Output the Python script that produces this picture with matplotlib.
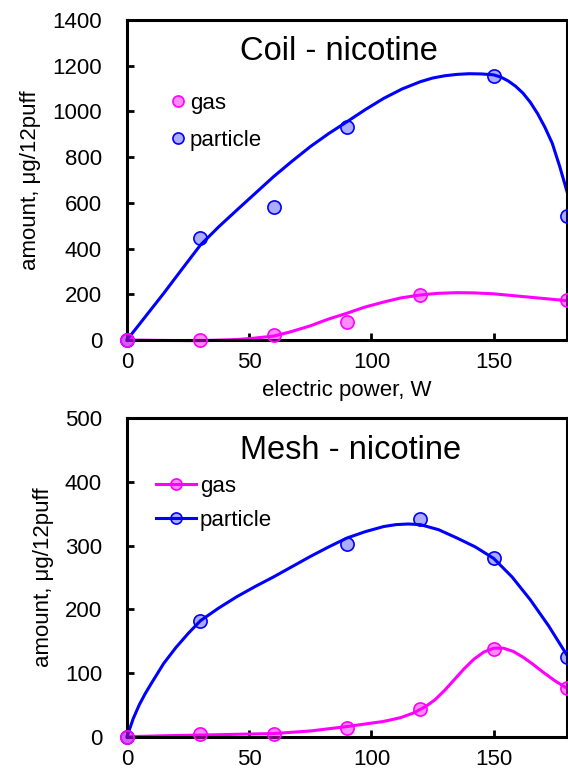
import matplotlib
matplotlib.use("Agg")
import matplotlib.pyplot as plt
from matplotlib.lines import Line2D

plt.rcParams['font.family'] = ['Liberation Sans', 'DejaVu Sans']

# ---- Coil - nicotine (measured points) ----
coil_gas_x = [0, 30, 60, 90, 120, 180]
coil_gas_y = [0, 0, 22, 80, 197, 174]
coil_part_x = [0, 30, 60, 90, 150, 180]
coil_part_y = [0, 447, 583, 930, 1155, 542]

# ---- Coil - fitted curves ----
coil_gas_fit_x = [0, 15, 30, 45, 52, 60, 67, 75, 82, 90, 97, 105, 112, 120, 127, 135, 142, 150, 157, 165, 172, 180]
coil_gas_fit_y = [0, -2, -3, 2, 8, 17, 36, 62, 90, 117, 143, 166, 184, 197, 204, 207, 206, 202, 195, 187, 180, 172]
coil_part_fit_x = [0, 7.5, 15, 22.5, 30, 37.5, 45, 52.5, 60, 67.5, 75, 82.5, 90, 97.5, 105, 112.5, 120, 125, 130, 135, 140, 145, 150, 153, 156, 159, 162, 165, 168, 171, 174, 177, 180]
coil_part_fit_y = [0, 102, 204, 310, 415, 495, 569, 642, 715, 782, 846, 903, 955, 1008, 1057, 1098, 1130, 1146, 1156, 1162, 1165, 1164, 1160, 1150, 1133, 1110, 1080, 1040, 990, 930, 860, 760, 650]

# ---- Mesh - nicotine (measured points) ----
mesh_gas_x = [0, 30, 60, 90, 120, 150, 180]
mesh_gas_y = [0, 4, 5, 14, 43, 138, 76]
mesh_part_x = [0, 30, 90, 120, 150, 180]
mesh_part_y = [0, 182, 302, 342, 280, 125]

# ---- Mesh - fitted curves ----
mesh_gas_fit_x = [0, 15, 30, 45, 60, 75, 90, 105, 112, 117, 122, 126, 130, 134, 138, 142, 146, 150, 154, 158, 162, 166, 170, 175, 180]
mesh_gas_fit_y = [0, 1.5, 2.6, 3.8, 5, 9, 16, 24, 30, 37, 47, 58, 73, 90, 107, 122, 133, 139, 139, 134, 125, 114, 102, 88, 76]
mesh_part_fit_x = [0, 2.5, 5, 7.5, 10, 15, 20, 25, 30, 37.5, 45, 52.5, 60, 67.5, 75, 82.5, 90, 97.5, 105, 110, 115, 120, 127.5, 135, 142.5, 150, 157.5, 165, 172.5, 180]
mesh_part_fit_y = [0, 28, 50, 68, 84, 115, 140, 162, 182, 202, 220, 236, 251, 267, 283, 298, 312, 322, 330, 333, 334, 333, 325, 312, 298, 280, 251, 215, 174, 128]

x_ticks = [0, 50, 100, 150]
coil_yticks = [0, 200, 400, 600, 800, 1000, 1200, 1400]
mesh_yticks = [0, 100, 200, 300, 400, 500]

GAS = '#FF00FF'
PART = '#0000FF'
GAS_FACE = (1.0, 0.0, 1.0, 0.45)
PART_FACE = (0.0, 0.0, 1.0, 0.32)

FS = 16

fig = plt.figure(figsize=(5.68, 7.72), dpi=100)
ax1 = fig.add_axes([0.2236, 0.5596, 0.7746, 0.4145])
ax2 = fig.add_axes([0.2236, 0.0457, 0.7746, 0.4125])

def style(ax, yticks, ymax):
    ax.set_xlim(0, 180)
    ax.set_ylim(0, ymax)
    ax.set_xticks(x_ticks)
    ax.set_yticks(yticks)
    for s in ax.spines.values():
        s.set_linewidth(2.2)
    ax.tick_params(direction='in', length=5, width=2, labelsize=FS)
    ax.tick_params(axis='y', pad=18)
    ax.tick_params(axis='x', pad=9)
    ax.set_ylabel('amount, μg/12puff', fontsize=FS, labelpad=8)

# top
ax1.plot(coil_part_fit_x, coil_part_fit_y, color=PART, lw=2.2, zorder=2, clip_on=False)
ax1.plot(coil_gas_fit_x, coil_gas_fit_y, color=GAS, lw=2.2, zorder=2, clip_on=False)
ax1.plot(coil_part_x, coil_part_y, 'o', ms=9.5, mfc=PART_FACE, mec=PART, mew=1.2, zorder=3, clip_on=False)
ax1.plot(coil_gas_x, coil_gas_y, 'o', ms=9.5, mfc=GAS_FACE, mec=GAS, mew=1.2, zorder=3, clip_on=False)
style(ax1, coil_yticks, 1400)
ax1.set_xlabel('electric power, W', fontsize=FS, labelpad=5)
ax1.text(0.482, 0.90, 'Coil - nicotine', transform=ax1.transAxes, fontsize=23.5,
         ha='center', va='center')
h1 = [Line2D([], [], ls='none', marker='o', ms=8, mfc=GAS_FACE, mec=GAS, mew=1.2),
      Line2D([], [], ls='none', marker='o', ms=8, mfc=PART_FACE, mec=PART, mew=1.2)]
ax1.legend(h1, ['gas', 'particle'], loc='upper left', bbox_to_anchor=(0.077, 0.772),
           frameon=False, fontsize=FS, handletextpad=-0.2, labelspacing=0.7,
           handlelength=1.5, borderaxespad=0, borderpad=0)

# bottom
ax2.plot(mesh_part_fit_x, mesh_part_fit_y, color=PART, lw=2.2, zorder=2, clip_on=False)
ax2.plot(mesh_gas_fit_x, mesh_gas_fit_y, color=GAS, lw=2.2, zorder=2, clip_on=False)
ax2.plot(mesh_part_x, mesh_part_y, 'o', ms=9.5, mfc=PART_FACE, mec=PART, mew=1.2, zorder=3, clip_on=False)
ax2.plot(mesh_gas_x, mesh_gas_y, 'o', ms=9.5, mfc=GAS_FACE, mec=GAS, mew=1.2, zorder=3, clip_on=False)
style(ax2, mesh_yticks, 500)
ax2.text(0.508, 0.90, 'Mesh - nicotine', transform=ax2.transAxes, fontsize=23.5,
         ha='center', va='center')
h2 = [Line2D([], [], color=GAS, lw=2.2, marker='o', ms=8, mfc=GAS_FACE, mec=GAS, mew=1.2),
      Line2D([], [], color=PART, lw=2.2, marker='o', ms=8, mfc=PART_FACE, mec=PART, mew=1.2)]
ax2.legend(h2, ['gas', 'particle'], loc='upper left', bbox_to_anchor=(0.065, 0.82),
           frameon=False, fontsize=FS, handletextpad=0.2, labelspacing=0.6,
           handlelength=1.8, borderaxespad=0, borderpad=0)

fig.savefig('out.png', dpi=100)
